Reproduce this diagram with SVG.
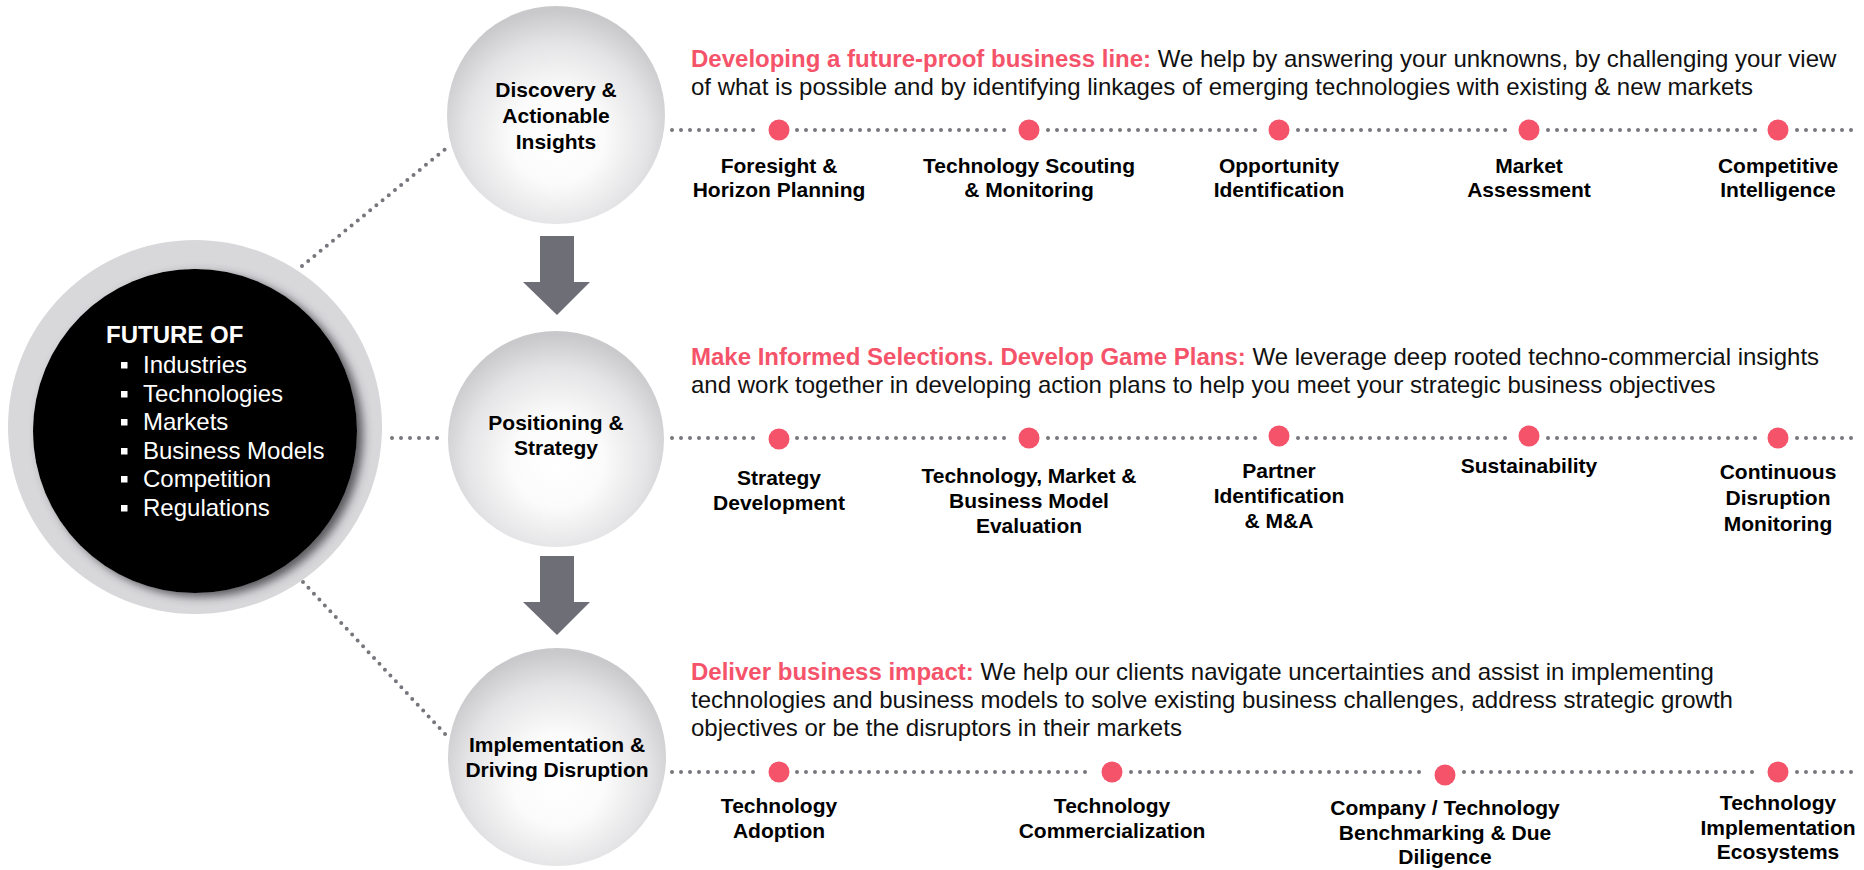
<svg xmlns="http://www.w3.org/2000/svg" width="1864" height="870" viewBox="0 0 1864 870">
<defs>
<radialGradient id="sphere" cx="50%" cy="58%" r="56%" fx="51%" fy="62%">
<stop offset="0" stop-color="#ffffff"/>
<stop offset="0.38" stop-color="#fbfbfb"/>
<stop offset="0.75" stop-color="#e4e4e6"/>
<stop offset="1" stop-color="#c9c9cc"/>
</radialGradient>
<filter id="shadow" x="-20%" y="-20%" width="140%" height="140%">
<feGaussianBlur in="SourceAlpha" stdDeviation="5"/>
<feOffset dx="6" dy="4" result="b"/>
<feFlood flood-color="#3a3a3e" flood-opacity="0.8"/>
<feComposite in2="b" operator="in"/>
<feMerge><feMergeNode/><feMergeNode in="SourceGraphic"/></feMerge>
</filter>
</defs>
<style>
.dot{stroke:#76777c;stroke-width:4;stroke-linecap:round;stroke-dasharray:0 9;fill:none}
.ddot{stroke:#76777c;stroke-width:4;stroke-linecap:round;stroke-dasharray:0 8;fill:none}
.red{fill:#f5536a}
.lbl{font-family:"Liberation Sans",Arial,sans-serif;font-weight:bold;font-size:21px;fill:#000;text-anchor:middle}
.desc{font-family:"Liberation Sans",Arial,sans-serif;font-size:24px;fill:#111}
.hl{font-weight:bold;fill:#f5536a}
.wt{font-family:"Liberation Sans",Arial,sans-serif;font-size:24px;fill:#fff}
.arrow{fill:#6e6e76}
</style>
<rect width="1864" height="870" fill="#fff"/>

<g id="connectors">
<line class="ddot" x1="302" y1="266" x2="449" y2="146"/>
<line class="dot" x1="392" y1="438" x2="444" y2="438"/>
<line class="ddot" x1="303" y1="582" x2="446" y2="735"/>
<!-- row 1 -->
<line class="dot" x1="672" y1="130" x2="760" y2="130"/>
<line class="dot" x1="797" y1="130" x2="1010" y2="130"/>
<line class="dot" x1="1048" y1="130" x2="1260" y2="130"/>
<line class="dot" x1="1298" y1="130" x2="1510" y2="130"/>
<line class="dot" x1="1548" y1="130" x2="1759" y2="130"/>
<line class="dot" x1="1797" y1="130" x2="1854" y2="130"/>
<!-- row 2 -->
<line class="dot" x1="672" y1="438" x2="760" y2="438"/>
<line class="dot" x1="797" y1="438" x2="1010" y2="438"/>
<line class="dot" x1="1048" y1="438" x2="1260" y2="438"/>
<line class="dot" x1="1298" y1="438" x2="1510" y2="438"/>
<line class="dot" x1="1548" y1="438" x2="1759" y2="438"/>
<line class="dot" x1="1797" y1="438" x2="1854" y2="438"/>
<!-- row 3 -->
<line class="dot" x1="672" y1="772" x2="760" y2="772"/>
<line class="dot" x1="797" y1="772" x2="1094" y2="772"/>
<line class="dot" x1="1131" y1="772" x2="1427" y2="772"/>
<line class="dot" x1="1464" y1="772" x2="1759" y2="772"/>
<line class="dot" x1="1797" y1="772" x2="1854" y2="772"/>
<!-- arrows -->
<polygon class="arrow" points="540,236 574,236 574,282 590,282 557,315 523,282 540,282"/>
<polygon class="arrow" points="540,556 574,556 574,602 590,602 557,635 523,602 540,602"/>
</g>

<g id="future-of">
<circle cx="195" cy="427" r="187" fill="#d8d8db"/>
<circle cx="195" cy="431" r="162" fill="#000" filter="url(#shadow)"/>
<text class="wt" x="106" y="343" font-weight="bold">FUTURE OF</text>
<g fill="#fff">
<rect x="121" y="362" width="6.5" height="6.5"/>
<rect x="121" y="391" width="6.5" height="6.5"/>
<rect x="121" y="419" width="6.5" height="6.5"/>
<rect x="121" y="448" width="6.5" height="6.5"/>
<rect x="121" y="476" width="6.5" height="6.5"/>
<rect x="121" y="505" width="6.5" height="6.5"/>
</g>
<text class="wt" x="143" y="373">Industries</text>
<text class="wt" x="143" y="402">Technologies</text>
<text class="wt" x="143" y="430">Markets</text>
<text class="wt" x="143" y="459">Business Models</text>
<text class="wt" x="143" y="487">Competition</text>
<text class="wt" x="143" y="516">Regulations</text>
</g>

<g id="discovery">
<circle cx="556" cy="115" r="109" fill="url(#sphere)"/>
<text class="lbl" x="556" y="97">Discovery &amp;</text>
<text class="lbl" x="556" y="123">Actionable</text>
<text class="lbl" x="556" y="149">Insights</text>
</g>
<g id="positioning">
<circle cx="556" cy="439" r="108" fill="url(#sphere)"/>
<text class="lbl" x="556" y="430">Positioning &amp;</text>
<text class="lbl" x="556" y="455">Strategy</text>
</g>
<g id="implementation">
<circle cx="557" cy="757" r="109" fill="url(#sphere)"/>
<text class="lbl" x="557" y="752">Implementation &amp;</text>
<text class="lbl" x="557" y="777">Driving Disruption</text>
</g>

<g id="desc-1">
<text class="desc" x="691" y="67"><tspan class="hl">Developing a future-proof business line:</tspan> We help by answering your unknowns, by challenging your view</text>
<text class="desc" x="691" y="95">of what is possible and by identifying linkages of emerging technologies with existing &amp; new markets</text>
</g>
<g id="desc-2">
<text class="desc" x="691" y="365"><tspan class="hl">Make Informed Selections. Develop Game Plans:</tspan> We leverage deep rooted techno-commercial insights</text>
<text class="desc" x="691" y="393">and work together in developing action plans to help you meet your strategic business objectives</text>
</g>
<g id="desc-3">
<text class="desc" x="691" y="680"><tspan class="hl">Deliver business impact:</tspan> We help our clients navigate uncertainties and assist in implementing</text>
<text class="desc" x="691" y="708">technologies and business models to solve existing business challenges, address strategic growth</text>
<text class="desc" x="691" y="736">objectives or be the disruptors in their markets</text>
</g>

<g id="foresight"><circle class="red" cx="779" cy="130" r="10.5"/><text class="lbl" x="779" y="173">Foresight &amp;</text><text class="lbl" x="779" y="197">Horizon Planning</text></g>
<g id="scouting"><circle class="red" cx="1029" cy="130" r="10.5"/><text class="lbl" x="1029" y="173">Technology Scouting</text><text class="lbl" x="1029" y="197">&amp; Monitoring</text></g>
<g id="opportunity"><circle class="red" cx="1279" cy="130" r="10.5"/><text class="lbl" x="1279" y="173">Opportunity</text><text class="lbl" x="1279" y="197">Identification</text></g>
<g id="market"><circle class="red" cx="1529" cy="130" r="10.5"/><text class="lbl" x="1529" y="173">Market</text><text class="lbl" x="1529" y="197">Assessment</text></g>
<g id="competitive"><circle class="red" cx="1778" cy="130" r="10.5"/><text class="lbl" x="1778" y="173">Competitive</text><text class="lbl" x="1778" y="197">Intelligence</text></g>

<g id="strategy-dev"><circle class="red" cx="779" cy="439" r="10.5"/><text class="lbl" x="779" y="485">Strategy</text><text class="lbl" x="779" y="510">Development</text></g>
<g id="evaluation"><circle class="red" cx="1029" cy="438" r="10.5"/><text class="lbl" x="1029" y="483">Technology, Market &amp;</text><text class="lbl" x="1029" y="508">Business Model</text><text class="lbl" x="1029" y="533">Evaluation</text></g>
<g id="partner"><circle class="red" cx="1279" cy="436" r="10.5"/><text class="lbl" x="1279" y="478">Partner</text><text class="lbl" x="1279" y="503">Identification</text><text class="lbl" x="1279" y="528">&amp; M&amp;A</text></g>
<g id="sustainability"><circle class="red" cx="1529" cy="436" r="10.5"/><text class="lbl" x="1529" y="473">Sustainability</text></g>
<g id="continuous"><circle class="red" cx="1778" cy="438" r="10.5"/><text class="lbl" x="1778" y="479">Continuous</text><text class="lbl" x="1778" y="505">Disruption</text><text class="lbl" x="1778" y="531">Monitoring</text></g>

<g id="adoption"><circle class="red" cx="779" cy="772" r="10.5"/><text class="lbl" x="779" y="813">Technology</text><text class="lbl" x="779" y="838">Adoption</text></g>
<g id="commercialization"><circle class="red" cx="1112" cy="772" r="10.5"/><text class="lbl" x="1112" y="813">Technology</text><text class="lbl" x="1112" y="838">Commercialization</text></g>
<g id="benchmarking"><circle class="red" cx="1445" cy="775" r="10.5"/><text class="lbl" x="1445" y="815">Company / Technology</text><text class="lbl" x="1445" y="840">Benchmarking &amp; Due</text><text class="lbl" x="1445" y="864">Diligence</text></g>
<g id="ecosystems"><circle class="red" cx="1778" cy="772" r="10.5"/><text class="lbl" x="1778" y="810">Technology</text><text class="lbl" x="1778" y="835">Implementation</text><text class="lbl" x="1778" y="859">Ecosystems</text></g>
</svg>
